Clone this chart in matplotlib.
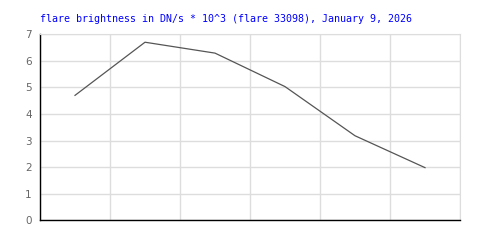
import matplotlib
matplotlib.use('Agg')
import matplotlib.pyplot as plt

# flare brightness values (DN/s * 10^3), one per time bin
bins = [0, 1, 2, 3, 4, 5]
brightness = [4.70, 6.70, 6.29, 5.03, 3.18, 1.98]
y_ticks = [0, 1, 2, 3, 4, 5, 6, 7]
title = 'flare brightness in DN/s * 10^3 (flare 33098), January 9, 2026'

fig = plt.figure(figsize=(5, 2.5), dpi=100)
ax = fig.add_axes([0.08, 0.119, 0.84, 0.744])

x = [b + 0.5 for b in bins]
ax.plot(x, brightness, color='#555555', linewidth=0.9)

ax.set_xlim(0, len(bins))
ax.set_ylim(0, 7)
ax.set_xticks(range(len(bins) + 1))
ax.set_xticklabels([])
ax.set_yticks(y_ticks)
ax.set_yticklabels([str(t) for t in y_ticks], color='#666666', fontsize=7.5)
ax.tick_params(length=0, pad=6)
ax.grid(True, color='#dddddd', linewidth=1)
ax.set_axisbelow(True)

for side in ['top', 'right']:
    ax.spines[side].set_color('#dddddd')
for side in ['left', 'bottom']:
    ax.spines[side].set_color('black')
    ax.spines[side].set_linewidth(1)

fig.text(0.08, 0.925, title, color='#0000ff', fontsize=7.2,
         family='DejaVu Sans Mono', va='center', ha='left')

fig.savefig('out.png', dpi=100)
